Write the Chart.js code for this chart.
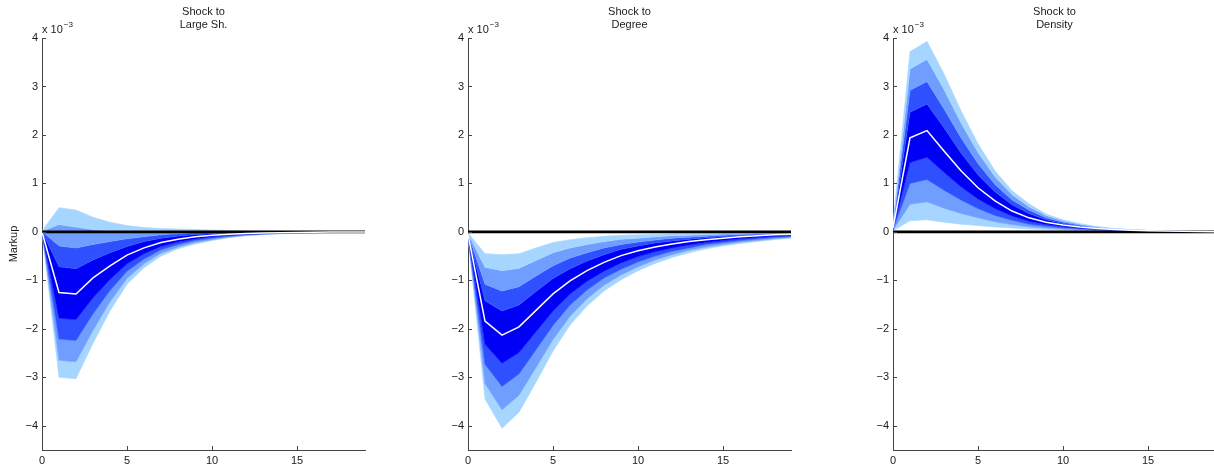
<!DOCTYPE html>
<html>
<head>
<meta charset="utf-8">
<script src="https://cdn.jsdelivr.net/npm/chart.js@4.4.1/dist/chart.umd.min.js"></script>
<style>
  html, body { margin: 0; padding: 0; background: #fff; overflow: hidden; }
  body { width: 1214px; height: 467px; position: relative; }
  canvas { position: absolute; top: 0; }
</style>
</head>
<body>
<canvas id="p1" width="375" height="467" style="left:0px"></canvas>
<canvas id="p2" width="375" height="467" style="left:426px"></canvas>
<canvas id="p3" width="375" height="467" style="left:851px"></canvas>
<script>
// values are in units of 10^-3 (axis shows "x 10^-3")
const horizon = [0, 1, 2, 3, 4, 5, 6, 7, 8, 9, 10, 11, 12, 13, 14, 15, 16, 17, 18, 19];
const yTicks = [-4, -3, -2, -1, 0, 1, 2, 3, 4];
const xTicks = [0, 5, 10, 15];
const titles = [['Shock to', 'Large Sh.'], ['Shock to', 'Degree'], ['Shock to', 'Density']];

// shock to large share
const largeQ95 = [0.02, 0.5, 0.45, 0.3, 0.2, 0.13, 0.09, 0.07, 0.06, 0.05, 0.04, 0.03, 0.02, 0.015, 0.01, 0.008, 0.005, 0.003, 0.002, 0.001];
const largeQ80 = [0.016, 0.15, 0.1, 0.05, 0.02, 0.01, 0.006, 0.01, 0.018, 0.02, 0.018, 0.014, 0.009, 0.007, 0.004, 0.004, 0.002, 0.001, 0.001, 0.0004];
const largeQ65 = [0.011, -0.29, -0.33, -0.26, -0.2, -0.14, -0.1, -0.06, -0.035, -0.018, -0.01, -0.006, -0.005, -0.003, -0.003, -0.001, -0.001, -0.001, -0.0003, 0];
const largeQ55 = [0.006, -0.72, -0.76, -0.58, -0.43, -0.3, -0.2, -0.13, -0.087, -0.055, -0.037, -0.026, -0.018, -0.013, -0.01, -0.006, -0.004, -0.003, -0.002, -0.001];
const largeMed = [0, -1.25, -1.28, -0.95, -0.7, -0.48, -0.33, -0.22, -0.15, -0.1, -0.07, -0.05, -0.035, -0.025, -0.018, -0.012, -0.008, -0.005, -0.003, -0.002];
const largeQ45 = [0, -1.78, -1.81, -1.36, -0.98, -0.66, -0.45, -0.3, -0.21, -0.145, -0.1, -0.071, -0.049, -0.034, -0.025, -0.017, -0.012, -0.008, -0.005, -0.003];
const largeQ35 = [0, -2.21, -2.24, -1.69, -1.21, -0.81, -0.56, -0.37, -0.26, -0.18, -0.13, -0.09, -0.06, -0.042, -0.03, -0.021, -0.015, -0.01, -0.007, -0.004];
const largeQ20 = [0, -2.65, -2.68, -2.03, -1.44, -0.96, -0.66, -0.44, -0.31, -0.22, -0.16, -0.106, -0.071, -0.049, -0.036, -0.025, -0.018, -0.012, -0.009, -0.005];
const largeQ05 = [0, -3.0, -3.03, -2.3, -1.63, -1.08, -0.74, -0.5, -0.35, -0.25, -0.18, -0.12, -0.08, -0.055, -0.04, -0.028, -0.02, -0.014, -0.01, -0.006];

// shock to degree
const degreeQ95 = [-0.02, -0.45, -0.47, -0.45, -0.33, -0.22, -0.16, -0.12, -0.09, -0.07, -0.06, -0.05, -0.04, -0.035, -0.03, -0.025, -0.02, -0.015, -0.012, -0.01];
const degreeQ80 = [-0.026, -0.73, -0.8, -0.75, -0.59, -0.43, -0.33, -0.26, -0.2, -0.15, -0.13, -0.1, -0.08, -0.068, -0.056, -0.046, -0.036, -0.028, -0.022, -0.018];
const degreeQ65 = [-0.034, -1.08, -1.22, -1.13, -0.91, -0.7, -0.54, -0.43, -0.33, -0.26, -0.21, -0.17, -0.13, -0.11, -0.088, -0.072, -0.056, -0.044, -0.034, -0.028];
const degreeQ55 = [-0.041, -1.42, -1.63, -1.51, -1.23, -0.96, -0.76, -0.6, -0.47, -0.36, -0.29, -0.23, -0.19, -0.15, -0.12, -0.1, -0.076, -0.06, -0.046, -0.038];
const degreeMed = [-0.05, -1.84, -2.13, -1.96, -1.62, -1.28, -1.01, -0.8, -0.63, -0.49, -0.39, -0.31, -0.25, -0.2, -0.16, -0.13, -0.1, -0.08, -0.06, -0.05];
const degreeQ45 = [-0.065, -2.32, -2.71, -2.49, -2.06, -1.63, -1.28, -1.02, -0.81, -0.64, -0.51, -0.41, -0.33, -0.27, -0.22, -0.18, -0.14, -0.116, -0.09, -0.074];
const degreeQ35 = [-0.078, -2.73, -3.19, -2.93, -2.43, -1.93, -1.51, -1.2, -0.95, -0.77, -0.62, -0.5, -0.4, -0.33, -0.26, -0.22, -0.18, -0.146, -0.115, -0.094];
const degreeQ20 = [-0.09, -3.13, -3.67, -3.37, -2.8, -2.22, -1.74, -1.38, -1.1, -0.89, -0.72, -0.58, -0.47, -0.38, -0.31, -0.26, -0.21, -0.176, -0.14, -0.114];
const degreeQ05 = [-0.1, -3.45, -4.05, -3.72, -3.1, -2.46, -1.92, -1.53, -1.22, -0.99, -0.8, -0.65, -0.53, -0.43, -0.35, -0.29, -0.24, -0.2, -0.16, -0.13];

// shock to density
const densityQ95 = [0.15, 3.72, 3.93, 3.26, 2.5, 1.82, 1.26, 0.85, 0.58, 0.37, 0.25, 0.17, 0.11, 0.07, 0.05, 0.03, 0.025, 0.017, 0.011, 0.007];
const densityQ80 = [0.136, 3.36, 3.56, 2.94, 2.25, 1.64, 1.14, 0.77, 0.52, 0.34, 0.228, 0.156, 0.102, 0.066, 0.047, 0.029, 0.024, 0.016, 0.0104, 0.0066];
const densityQ65 = [0.12, 2.92, 3.1, 2.54, 1.94, 1.41, 0.98, 0.66, 0.45, 0.29, 0.2, 0.138, 0.092, 0.061, 0.043, 0.028, 0.022, 0.015, 0.0097, 0.0061];
const densityQ55 = [0.1, 2.47, 2.64, 2.15, 1.63, 1.18, 0.83, 0.56, 0.38, 0.25, 0.173, 0.121, 0.082, 0.056, 0.04, 0.027, 0.02, 0.0135, 0.009, 0.0056];
const densityMed = [0.08, 1.94, 2.09, 1.67, 1.26, 0.91, 0.64, 0.43, 0.29, 0.2, 0.14, 0.1, 0.07, 0.05, 0.035, 0.025, 0.018, 0.012, 0.008, 0.005];
const densityQ45 = [0.062, 1.43, 1.54, 1.23, 0.93, 0.68, 0.48, 0.33, 0.22, 0.154, 0.109, 0.078, 0.054, 0.039, 0.027, 0.019, 0.014, 0.009, 0.006, 0.0038];
const densityQ35 = [0.047, 1.0, 1.08, 0.86, 0.66, 0.48, 0.34, 0.24, 0.16, 0.115, 0.082, 0.059, 0.041, 0.029, 0.02, 0.015, 0.01, 0.007, 0.0047, 0.0028];
const densityQ20 = [0.032, 0.57, 0.62, 0.49, 0.38, 0.29, 0.21, 0.15, 0.106, 0.076, 0.056, 0.04, 0.028, 0.02, 0.013, 0.01, 0.007, 0.005, 0.0032, 0.0018];
const densityQ05 = [0.02, 0.23, 0.25, 0.2, 0.16, 0.13, 0.1, 0.08, 0.06, 0.045, 0.035, 0.025, 0.018, 0.012, 0.008, 0.006, 0.004, 0.003, 0.002, 0.001];

const light = 'rgb(166,214,255)';
const mid = 'rgb(112,158,255)';
const dark = 'rgb(46,80,255)';
const core = 'rgb(0,0,246)';
const txt = '#1a1a1a';
const axisCol = '#444';
const fontFam = '"Liberation Sans", Arial, Helvetica, sans-serif';

function pts(arr) {
    return horizon.map((x, i) => ({ x: x, y: arr[i] }));
}

function band(arr, color) {
    return { data: pts(arr), fill: '-1', backgroundColor: color, borderColor: color, borderWidth: 0.6 };
}

function fmt(v) {
    return v < 0 ? '\u2212' + Math.abs(v) : '' + v;
}

// inward tick marks, title and the exponent label
const decor = {
    id: 'decor',
    afterDraw(chart) {
        const ctx = chart.ctx;
        const a = chart.chartArea;
        const xs = chart.scales.x, ys = chart.scales.y;
        ctx.save();
        ctx.strokeStyle = axisCol;
        ctx.lineWidth = 1;
        ctx.beginPath();
        ys.ticks.forEach(t => {
            const py = Math.round(ys.getPixelForValue(t.value)) + 0.5;
            ctx.moveTo(a.left, py);
            ctx.lineTo(a.left + 4, py);
        });
        xs.ticks.forEach(t => {
            const px = Math.round(xs.getPixelForValue(t.value)) + 0.5;
            ctx.moveTo(px, a.bottom);
            ctx.lineTo(px, a.bottom - 4);
        });
        ctx.stroke();

        ctx.fillStyle = txt;
        ctx.font = '11px ' + fontFam;
        ctx.textAlign = 'center';
        ctx.textBaseline = 'middle';
        const cx = (a.left + a.right) / 2;
        const t = chart.options.plugins.decor.title;
        ctx.fillText(t[0], cx, 12);
        ctx.fillText(t[1], cx, 25);

        ctx.textAlign = 'left';
        ctx.textBaseline = 'alphabetic';
        ctx.fillText('x 10', a.left, 33);
        const w = ctx.measureText('x 10').width;
        ctx.font = '8px ' + fontFam;
        ctx.fillText('\u22123', a.left + w + 1, 27);
        ctx.restore();
    }
};

function makePanel(id, title, q, showYTitle) {
    const zero = horizon.map(() => 0);
    new Chart(document.getElementById(id), {
        type: 'line',
        data: {
            datasets: [
                { data: pts(q.med), borderColor: '#fff', borderWidth: 1.5, fill: false },
                { data: pts(zero), borderColor: '#000', borderWidth: 2.6, fill: false },
                { data: pts(q.q95), borderColor: light, borderWidth: 0.6, fill: false },
                band(q.q80, light),
                band(q.q65, mid),
                band(q.q55, dark),
                band(q.q45, core),
                band(q.q35, dark),
                band(q.q20, mid),
                band(q.q05, light)
            ]
        },
        options: {
            responsive: false,
            animation: false,
            layout: { padding: { top: 38, right: 10, left: 0, bottom: 0 } },
            elements: { point: { radius: 0 }, line: { tension: 0 } },
            plugins: { legend: { display: false }, tooltip: { enabled: false }, decor: { title: title } },
            scales: {
                x: {
                    type: 'linear', min: 0, max: 19,
                    afterBuildTicks: s => { s.ticks = xTicks.map(v => ({ value: v })); },
                    afterFit: s => { s.height = 17; },
                    grid: { display: false, drawTicks: false },
                    border: { display: true, color: axisCol, width: 1 },
                    ticks: { padding: 4, color: txt, font: { size: 11, family: fontFam }, maxRotation: 0, autoSkip: false }
                },
                y: {
                    min: -4.5, max: 4,
                    afterBuildTicks: s => { s.ticks = yTicks.map(v => ({ value: v })); },
                    afterFit: s => { s.width = 42; },
                    grid: { display: false, drawTicks: false },
                    border: { display: true, color: axisCol, width: 1 },
                    ticks: { padding: 4, color: txt, font: { size: 11, family: fontFam }, callback: fmt },
                    title: { display: showYTitle, text: 'Markup', color: txt, font: { size: 11, family: fontFam }, padding: { top: 7, bottom: 0 } }
                }
            }
        },
        plugins: [decor]
    });
}

makePanel('p1', titles[0], { q05: largeQ05, q20: largeQ20, q35: largeQ35, q45: largeQ45, med: largeMed, q55: largeQ55, q65: largeQ65, q80: largeQ80, q95: largeQ95 }, true);
makePanel('p2', titles[1], { q05: degreeQ05, q20: degreeQ20, q35: degreeQ35, q45: degreeQ45, med: degreeMed, q55: degreeQ55, q65: degreeQ65, q80: degreeQ80, q95: degreeQ95 }, false);
makePanel('p3', titles[2], { q05: densityQ05, q20: densityQ20, q35: densityQ35, q45: densityQ45, med: densityMed, q55: densityQ55, q65: densityQ65, q80: densityQ80, q95: densityQ95 }, false);
</script>
</body>
</html>
